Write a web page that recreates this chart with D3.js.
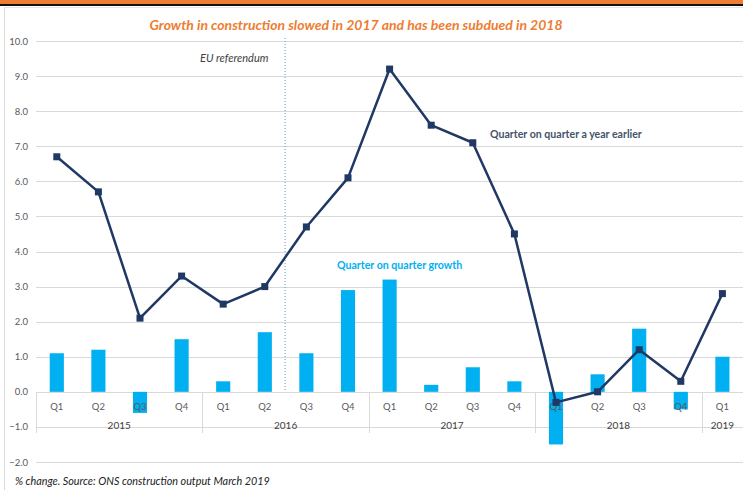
<!DOCTYPE html>
<html>
  <head>
    <meta charset="utf-8">
    <title>Construction growth</title>
    <script src="https://d3js.org/d3.v7.min.js"></script>
    <style>
      body { margin: 0; background: #fff; font-family: Lato, "Open Sans", sans-serif; }
    </style>
  </head>
  <body>
    <div id="my_dataviz"></div>
    <script>

      // data
      var quarters = ["Q1","Q2","Q3","Q4","Q1","Q2","Q3","Q4","Q1","Q2","Q3","Q4","Q1","Q2","Q3","Q4","Q1"];
      var years = ["2015","2016","2017","2018","2019"];
      var yearSpans = [4, 4, 4, 4, 1];
      var qoqGrowth = [1.1, 1.2, -0.6, 1.5, 0.3, 1.7, 1.1, 2.9, 3.2, 0.2, 0.7, 0.3, -1.5, 0.5, 1.8, -0.5, 1.0];
      var yearEarlier = [6.7, 5.7, 2.1, 3.3, 2.5, 3.0, 4.7, 6.1, 9.2, 7.6, 7.1, 4.5, -0.3, 0.0, 1.2, 0.3, 2.8];
      var yTicks = [-2, -1, 0, 1, 2, 3, 4, 5, 6, 7, 8, 9, 10];
      var referendumIndex = 6;   // boundary before 2016 Q3

      var W = 743, H = 490;
      var svg = d3.select("#my_dataviz").append("svg")
          .attr("width", W).attr("height", H);

      // orange / black strip at the top + frame
      svg.append("rect").attr("x", 0).attr("y", 0).attr("width", W).attr("height", 4).attr("fill", "#ED7D31");
      svg.append("rect").attr("x", 0).attr("y", 4).attr("width", W).attr("height", 2).attr("fill", "#111");
      svg.append("line").attr("x1", 4.5).attr("x2", 4.5).attr("y1", 7).attr("y2", H)
        .attr("stroke", "#d9d9d9").attr("stroke-width", 1);
      svg.append("line").attr("x1", 4).attr("x2", W).attr("y1", 7.5).attr("y2", 7.5)
        .attr("stroke", "#e6e6e6").attr("stroke-width", 1);

      svg.append("text")
        .attr("x", 356).attr("y", 30)
        .attr("text-anchor", "middle")
        .attr("font-size", 14).attr("font-weight", "bold").attr("font-style", "italic")
        .attr("fill", "#ED7D31")
        .text("Growth in construction slowed in 2017 and has been subdued in 2018");

      var x = d3.scaleBand()
        .domain(d3.range(quarters.length))
        .range([36, 36 + 41.6 * quarters.length])
        .paddingInner(0.66).paddingOuter(0.33);

      var y = d3.scaleLinear().domain([-2, 10]).range([462, 41]);

      function cx(i) { return x(i) + x.bandwidth() / 2; }
      function edge(i) { return 36 + 41.6 * i; }

      // gridlines
      svg.append("g").selectAll("line").data(yTicks).join("line")
        .attr("x1", 36).attr("x2", W)
        .attr("y1", function(d) { return Math.round(y(d)) + 0.5; })
        .attr("y2", function(d) { return Math.round(y(d)) + 0.5; })
        .attr("stroke", "#d9d9d9").attr("stroke-width", 1);

      // y tick labels
      svg.append("g").selectAll("text").data(yTicks).join("text")
        .attr("x", 28).attr("y", function(d) { return y(d) + 3.5; })
        .attr("text-anchor", "end")
        .attr("font-size", 9.5).attr("fill", "#595959")
        .text(function(d) { return d3.format(".1f")(d); });

      // year dividers
      var bounds = [0];
      yearSpans.reduce(function(a, s) { bounds.push(a + s); return a + s; }, 0);
      svg.append("g").selectAll("line").data(bounds.slice(0, bounds.length - 1)).join("line")
        .attr("x1", function(d) { return Math.round(edge(d)) + 0.5; })
        .attr("x2", function(d) { return Math.round(edge(d)) + 0.5; })
        .attr("y1", y(0)).attr("y2", 433)
        .attr("stroke", "#d9d9d9").attr("stroke-width", 1);

      // EU referendum marker
      svg.append("line")
        .attr("x1", edge(referendumIndex) - 0.5).attr("x2", edge(referendumIndex) - 0.5)
        .attr("y1", 38).attr("y2", y(0))
        .attr("stroke", "#5B9BD5").attr("stroke-width", 1).attr("stroke-dasharray", "1,2");
      svg.append("text")
        .attr("x", 200).attr("y", 62)
        .attr("font-size", 11).attr("font-style", "italic").attr("fill", "#404040")
        .text("EU referendum");

      // bars
      svg.append("g").selectAll("rect").data(qoqGrowth).join("rect")
        .attr("x", function(d, i) { return x(i); })
        .attr("width", x.bandwidth())
        .attr("y", function(d) { return y(Math.max(0, d)); })
        .attr("height", function(d) { return Math.abs(y(d) - y(0)); })
        .attr("fill", "#00B0F0");

      // quarter labels
      svg.append("g").selectAll("text").data(quarters).join("text")
        .attr("x", function(d, i) { return cx(i); }).attr("y", 410)
        .attr("text-anchor", "middle")
        .attr("font-size", 9.5).attr("fill", "#595959")
        .text(function(d) { return d; });

      // year labels
      svg.append("g").selectAll("text").data(years).join("text")
        .attr("x", function(d, i) { return (edge(bounds[i]) + edge(bounds[i + 1])) / 2; })
        .attr("y", 429)
        .attr("text-anchor", "middle")
        .attr("font-size", 10).attr("fill", "#404040")
        .text(function(d) { return d; });

      // year-earlier line
      svg.append("path")
        .datum(yearEarlier)
        .attr("fill", "none")
        .attr("stroke", "#203864")
        .attr("stroke-width", 2.5)
        .attr("stroke-linejoin", "round")
        .attr("d", d3.line()
          .x(function(d, i) { return cx(i); })
          .y(function(d) { return y(d); }));

      svg.append("g").selectAll("rect").data(yearEarlier).join("rect")
        .attr("x", function(d, i) { return cx(i) - 3.5; })
        .attr("y", function(d) { return y(d) - 3.5; })
        .attr("width", 7).attr("height", 7)
        .attr("fill", "#203864");

      // series labels
      svg.append("text")
        .attr("x", 490).attr("y", 138)
        .attr("font-size", 10.6).attr("font-weight", "bold").attr("fill", "#44546A")
        .text("Quarter on quarter a year earlier");
      svg.append("text")
        .attr("x", 337).attr("y", 269)
        .attr("font-size", 10.6).attr("font-weight", "bold").attr("fill", "#00B0F0")
        .text("Quarter on quarter growth");

      // footer
      svg.append("text")
        .attr("x", 15).attr("y", 485)
        .attr("font-size", 10.8).attr("font-style", "italic").attr("fill", "#222")
        .text("% change. Source: ONS construction output March 2019");

    </script>
  </body>
</html>
